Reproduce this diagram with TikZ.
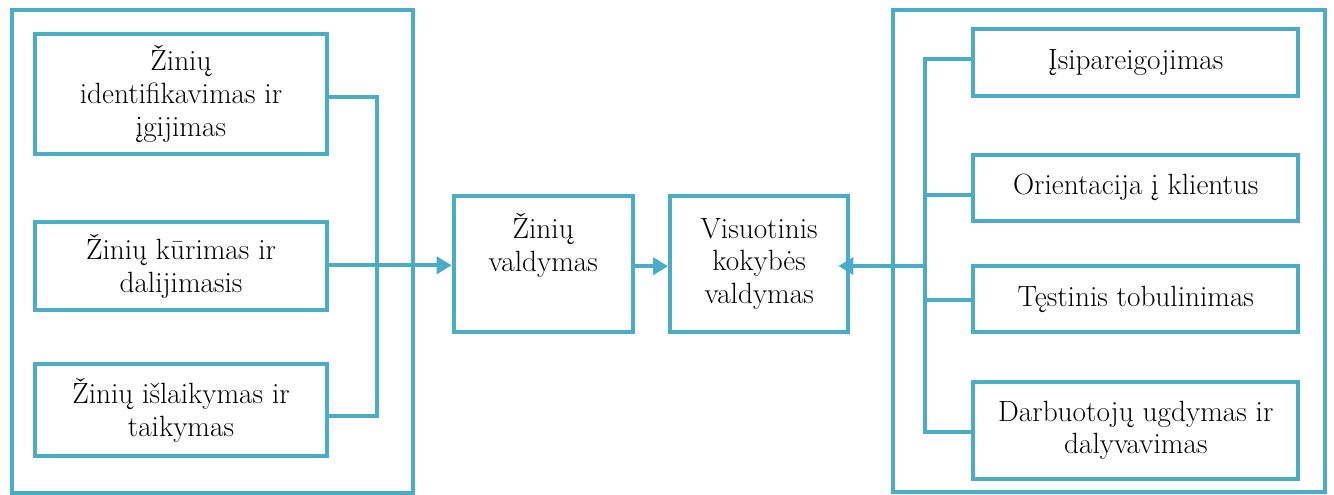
\documentclass[tikz,border=0pt]{standalone}
\usepackage{fontspec}
\usetikzlibrary{arrows.meta}
\definecolor{aqua}{HTML}{4BACC6}
\begin{document}
\begin{tikzpicture}[x=1pt, y=-1pt,
  box/.style={draw=aqua, line width=4pt, inner sep=0pt, align=center,
    font=\rmfamily\fontsize{29.3}{32.8}\selectfont},
  frame/.style={draw=aqua, line width=4pt},
  link/.style={draw=aqua, line width=4pt},
  arr/.style={link, -{Triangle[length=15pt,width=17pt]}}]
\useasboundingbox (0,0) rectangle (1334,495);

% group frames
\draw[frame] (12,10.5) rectangle (412.5,493);
\draw[frame] (893.3,10.5) rectangle (1324.7,492);

% knowledge management activities
\node[box, minimum width=292pt, minimum height=119pt] (b1) at (181,94)
  {Žinių\\identifikavimas ir\\įgijimas};
\node[box, minimum width=292pt, minimum height=88pt] (b2) at (181,266)
  {Žinių kūrimas ir\\dalijimasis};
\node[box, minimum width=292pt, minimum height=92.3pt] (b3) at (181,410)
  {Žinių išlaikymas ir\\taikymas};

% central boxes
\node[box, minimum width=179pt, minimum height=136.3pt] (kv) at (543.2,263.8)
  {Žinių\\valdymas\\\strut};
\node[box, minimum width=178.3pt, minimum height=136.3pt] (vk) at (759.2,263.8)
  {Visuotinis\\kokybės\\valdymas};

% TQM principles
\node[box, minimum width=325pt, minimum height=66.5pt] (r1) at (1135.8,62.75)
  {Įsipareigojimas};
\node[box, minimum width=325pt, minimum height=66pt] (r2) at (1135.8,187.7)
  {Orientacija į klientus};
\node[box, minimum width=325pt, minimum height=65.7pt] (r3) at (1135.8,299.2)
  {Tęstinis tobulinimas};
\node[box, minimum width=325pt, minimum height=96.7pt] (r4) at (1135.8,430.3)
  {Darbuotojų ugdymas ir\\dalyvavimas};

% left bus
\draw[link] ([yshift=-2.7pt]b1.east) -- ++(47.7,0) |- ([yshift=-6pt]b3.east);
\draw[arr] ([yshift=0.7pt]b2.east) -- ([yshift=0.7pt]b2.east -| kv.west);
\draw[arr] ([yshift=-2.4pt]kv.east) -- ([yshift=-2.4pt]kv.east -| vk.west);

% right bus
\draw[link] ([yshift=3.5pt]r1.west) -- ++(-46,0) |- ([yshift=-1.4pt]r4.west);
\draw[link] ([yshift=-7pt]r2.west) -- ++(-46,0);
\draw[link] ([yshift=-0.5pt]r3.west) -- ++(-46,0);
\coordinate (hub) at (925,266);
\draw[arr, shorten >=-12pt] (hub) -- (hub -| vk.east);
\end{tikzpicture}
\end{document}
